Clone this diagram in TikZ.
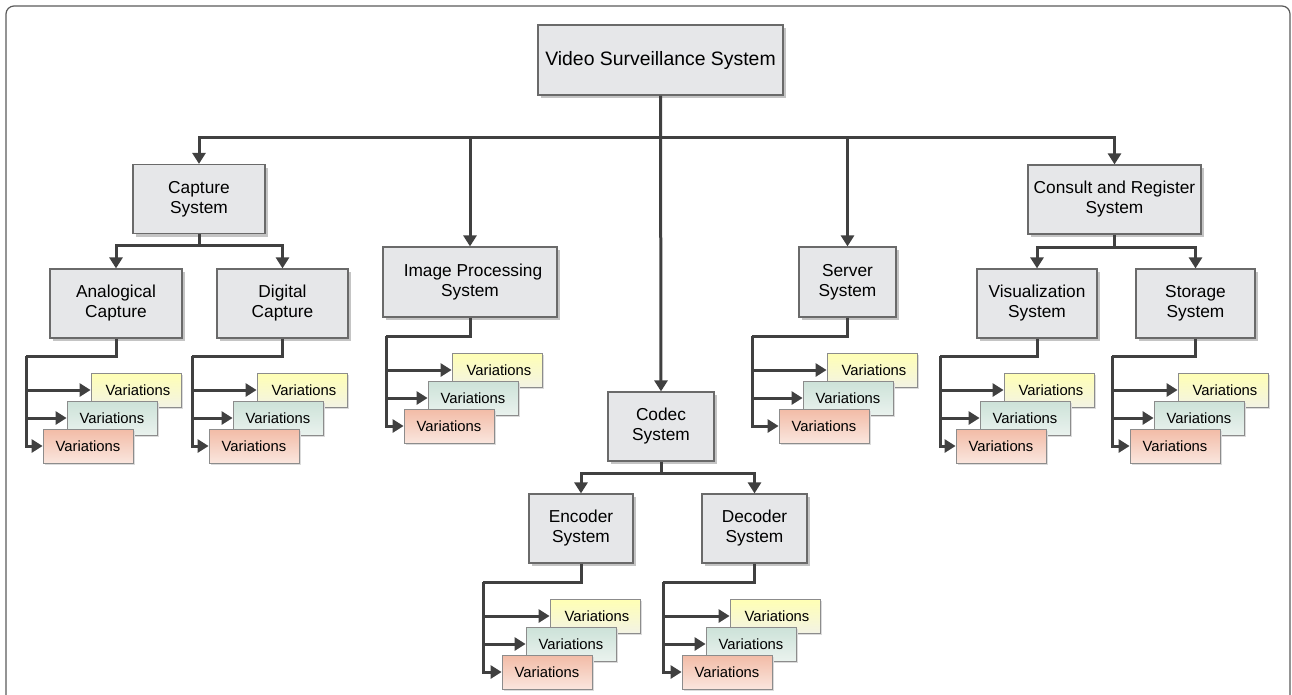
\documentclass[tikz,border=0pt]{standalone}
\usepackage{fontspec}
\setmainfont{Liberation Sans}
\usetikzlibrary{arrows.meta,shadows}

\definecolor{boxfill}{HTML}{E6E7E9}
\definecolor{boxline}{HTML}{6A6A6A}
\definecolor{shadowgray}{HTML}{C4C4C4}
\definecolor{linegray}{HTML}{404040}
\definecolor{framegray}{HTML}{5A5A5A}
\definecolor{varline}{HTML}{8C8C8C}
\definecolor{yeltop}{HTML}{FFFFB4}
\definecolor{yelbot}{HTML}{F3F3E4}
\definecolor{grntop}{HTML}{CCE2D8}
\definecolor{grnbot}{HTML}{EAF2EE}
\definecolor{redtop}{HTML}{F2BBA6}
\definecolor{redbot}{HTML}{FAE6DE}

\tikzset{
  sysbox/.style={draw=boxline, line width=1.2pt, fill=boxfill, align=center,
    inner sep=0pt, minimum height=69pt, font=\fontsize{17.3}{20}\selectfont,
    drop shadow={shadow xshift=3pt, shadow yshift=-3pt, fill=shadowgray, opacity=1}},
  varbox/.style={draw=varline, line width=0.8pt, minimum width=90pt,
    minimum height=34pt, inner sep=0pt, font=\fontsize{14.8}{17}\selectfont,
    drop shadow={shadow xshift=2pt, shadow yshift=-2pt, fill=black!14, opacity=1}},
  yelbox/.style={varbox, top color=yeltop, bottom color=yelbot},
  grnbox/.style={varbox, top color=grntop, bottom color=grnbot},
  redbox/.style={varbox, top color=redtop, bottom color=redbot},
  conn/.style={draw=linegray, line width=3pt},
  arr/.style={conn, -{Triangle[length=11pt,width=13pt]}},
  framepath/.style={draw=framegray, line width=1.2pt, rounded corners=8pt},
}

% Three stacked "Variations" cards fed from a parent box.
% #1 parent node, #2 x of the feeder line, #3 left x of the front card, #4 y of the branch
\newcommand{\vargroup}[4]{%
  \node[yelbox] (#1-y) at (#3+93, #4+34) {\hspace{4pt}Variations};
  \node[grnbox] (#1-g) at (#3+69, #4+62) {Variations};
  \node[redbox] (#1-r) at (#3+45, #4+90) {Variations};
  \coordinate (#1-v) at (#2, #4);
  \draw[conn] (#1.south) |- (#1-v);
  \draw[arr] (#1-v) |- (#1-y.west);
  \draw[arr] (#1-v) |- (#1-g.west);
  \draw[arr] (#1-v) |- (#1-r.west);
}

\begin{document}
\begin{tikzpicture}[x=1pt, y=-1pt]
  \useasboundingbox (0,0) rectangle (1292,694);
  \draw[framepath] (6,720) -- (6,6) -- (1290,6) -- (1290,720);

  % system boxes
  \node[sysbox, minimum width=245pt, minimum height=70pt,
        font=\fontsize{19.4}{22}\selectfont] (vss) at (660.5,60) {Video Surveillance System};
  \node[sysbox, minimum width=132pt] (cap) at (199,199) {Capture\\System};
  \node[sysbox, minimum width=132pt] (ana) at (116,303.5) {Analogical\\Capture};
  \node[sysbox, minimum width=131pt] (dig) at (282.5,303.5) {Digital\\Capture};
  \node[sysbox, minimum width=174pt, minimum height=70pt] (img) at (470,282) {\hspace{6pt}Image Processing\\System};
  \node[sysbox, minimum width=97pt, minimum height=70pt] (srv) at (847.5,282) {Server\\System};
  \node[sysbox, minimum width=106pt] (cod) at (661,426.5) {Codec\\System};
  \node[sysbox, minimum width=104pt] (enc) at (581,528.5) {Encoder\\System};
  \node[sysbox, minimum width=105pt] (dec) at (754.5,528.5) {Decoder\\System};
  \node[sysbox, minimum width=173pt] (con) at (1114.5,199.5) {Consult and Register\\System};
  \node[sysbox, minimum width=120pt] (vis) at (1037,303.5) {Visualization\\System};
  \node[sysbox, minimum width=119pt] (sto) at (1195.5,303.5) {Storage\\System};

  % top level branching
  \coordinate (topbus) at (660.5,137);
  \draw[conn] (vss.south) -- (topbus);
  \draw[arr] (topbus) -| (cap.north);
  \draw[arr] (topbus) -| (img.north);
  \draw[arr] (vss.south) -- (cod.north);
  \draw[arr] (topbus) -| (srv.north);
  \draw[arr] (topbus) -| (con.north);

  % capture subsystems
  \coordinate (capbus) at (199,245);
  \draw[conn] (cap.south) -- (capbus);
  \draw[arr] (capbus) -| (ana.north);
  \draw[arr] (capbus) -| (dig.north);

  % codec subsystems
  \coordinate (codbus) at (661,473);
  \draw[conn] (cod.south) -- (codbus);
  \draw[arr] (codbus) -| (enc.north);
  \draw[arr] (codbus) -| (dec.north);

  % consult and register subsystems
  \coordinate (conbus) at (1114.5,247);
  \draw[conn] (con.south) -- (conbus);
  \draw[arr] (conbus) -| (vis.north);
  \draw[arr] (conbus) -| (sto.north);

  % variations
  \vargroup{ana}{26}{43}{356}
  \vargroup{dig}{192}{209}{356}
  \vargroup{img}{386}{404}{336}
  \vargroup{srv}{752}{779}{336}
  \vargroup{enc}{483}{502}{582}
  \vargroup{dec}{663}{682}{582}
  \vargroup{vis}{940}{956}{356}
  \vargroup{sto}{1112}{1130}{356}
\end{tikzpicture}
\end{document}
